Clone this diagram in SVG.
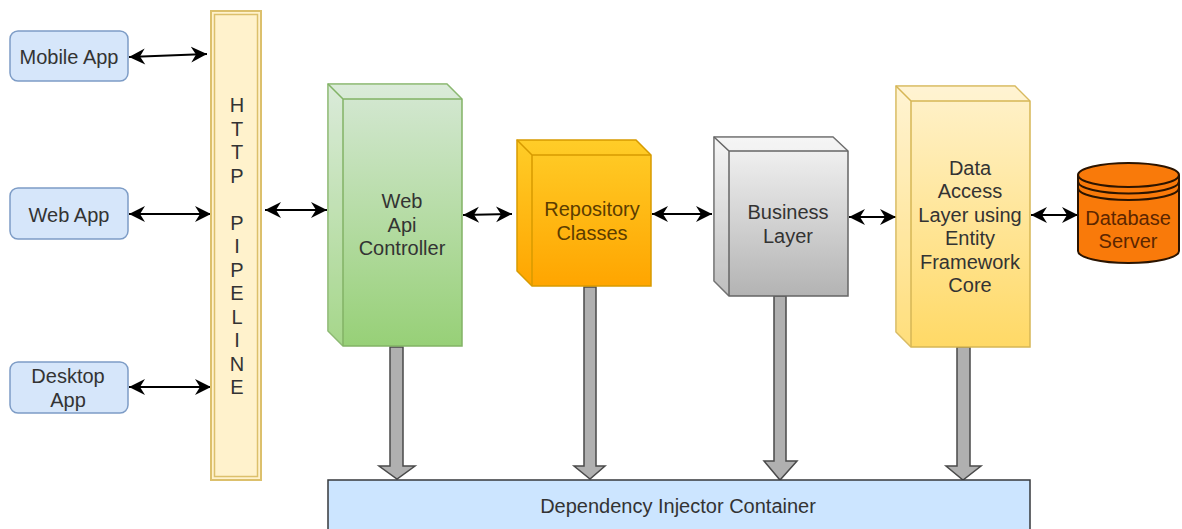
<svg xmlns="http://www.w3.org/2000/svg" width="1182" height="529" viewBox="0 0 1182 529">
<style>
text{font-family:"Liberation Sans",Arial,sans-serif;font-size:20px;fill:#333;text-anchor:middle}
.app{fill:#d6e6fa;stroke:#7d9cc6;stroke-width:1.5}
.ov{fill:#fff;fill-opacity:.14;stroke:none}
.link{fill:none;stroke:#000;stroke-width:2;marker-start:url(#b);marker-end:url(#a)}
.dep{fill:#b0b0b0;stroke:#4a4a4a;stroke-width:1.5}
</style>
<defs>
<marker id="a" markerUnits="userSpaceOnUse" markerWidth="18" markerHeight="18" refX="16" refY="9" orient="auto"><path d="M0 1 L16 9 L0 17 L5 9Z" fill="#000"/></marker>
<marker id="b" markerUnits="userSpaceOnUse" markerWidth="18" markerHeight="18" refX="1" refY="9" orient="auto"><path d="M17 1 L1 9 L17 17 L12 9Z" fill="#000"/></marker>
<linearGradient id="g" x1="0" y1="0" x2="0" y2="1"><stop offset="0" stop-color="#d5e8d4"/><stop offset="1" stop-color="#97d077"/></linearGradient>
<linearGradient id="o" x1="0" y1="0" x2="0" y2="1"><stop offset="0" stop-color="#ffcd28"/><stop offset="1" stop-color="#ffa500"/></linearGradient>
<linearGradient id="s" x1="0" y1="0" x2="0" y2="1"><stop offset="0" stop-color="#f5f5f5"/><stop offset="1" stop-color="#b3b3b3"/></linearGradient>
<linearGradient id="y" x1="0" y1="0" x2="0" y2="1"><stop offset="0" stop-color="#fff2cc"/><stop offset="1" stop-color="#ffd966"/></linearGradient>
</defs>
<g id="connectors">
<path class="link" d="M129 57L207 54"/>
<path class="link" d="M129 214L211 214"/>
<path class="link" d="M129 387L211 387"/>
<path class="link" d="M265 210L327 210"/>
<path class="link" d="M463 215L512 214"/>
<path class="link" d="M652 214L712 214"/>
<path class="link" d="M849 217L896 217"/>
<path class="link" d="M1031 215L1078 215"/>
<path class="dep" d="M390 347H403V466H415L397 479L379 466H390Z"/>
<path class="dep" d="M584 287H596V466H605L590 479L574 466H584Z"/>
<path class="dep" d="M774 296H786V461H797L780 480L764 461H774Z"/>
<path class="dep" d="M957 347H970V466H981L963 480L946 466H957Z"/>
</g>
<g id="mobile-app"><rect class="app" x="10" y="31" width="118" height="50" rx="8"/><text x="69" y="64">Mobile App</text></g>
<g id="web-app"><rect class="app" x="10" y="188" width="118" height="51" rx="8"/><text x="69" y="222">Web App</text></g>
<g id="desktop-app"><rect class="app" x="10" y="362" width="118" height="51" rx="8"/><text x="68" y="383">Desktop</text><text x="68" y="407">App</text></g>
<g id="http-pipeline"><rect x="211" y="11" width="50" height="469" fill="#fff2cc" stroke="#dcc06c" stroke-width="2"/><rect x="214.500" y="14.500" width="43" height="462" fill="none" stroke="#dcc06c" stroke-width="1.500"/>
<text x="237" y="112">H</text><text x="237" y="135.500">T</text><text x="237" y="159">T</text><text x="237" y="182.500">P</text><text x="237" y="229.500">P</text><text x="237" y="253">I</text><text x="237" y="276.500">P</text><text x="237" y="300">E</text><text x="237" y="323.500">L</text><text x="237" y="347">I</text><text x="237" y="370.500">N</text><text x="237" y="394">E</text></g>
<g id="web-api-controller"><path d="M328 84H447L462 99V346H343L328 331Z" fill="url(#g)" stroke="#82b366" stroke-width="1.500"/><path class="ov" d="M328 84H447L462 99H343V346L328 331Z"/><path d="M328 84L343 99H462M343 99V346" fill="none" stroke="#82b366" stroke-width="1.500"/><text x="402" y="208">Web</text><text x="402" y="231.500">Api</text><text x="402" y="255">Controller</text></g>
<g id="repository-classes"><path d="M517 140H636L651 155V286H532L517 271Z" fill="url(#o)" stroke="#d79b00" stroke-width="1.500"/><path d="M517 140L532 155H651M532 155V286" fill="none" stroke="#d79b00" stroke-width="1.500"/><text x="592" y="216" style="fill:#5c3d00">Repository</text><text x="592" y="239.500" style="fill:#5c3d00">Classes</text></g>
<g id="business-layer"><path d="M714 137H833L848 151V296H729L714 281Z" fill="url(#s)" stroke="#666" stroke-width="1.500"/><path class="ov" d="M714 137H833L848 151H729V296L714 281Z"/><path d="M714 137L729 151H848M729 151V296" fill="none" stroke="#666" stroke-width="1.500"/><text x="788" y="219">Business</text><text x="788" y="243">Layer</text></g>
<g id="data-access-layer"><path d="M896 86H1015L1030 101V347H911L896 332Z" fill="url(#y)" stroke="#d6b656" stroke-width="1.500"/><path class="ov" d="M896 86H1015L1030 101H911V347L896 332Z"/><path d="M896 86L911 101H1030M911 101V347" fill="none" stroke="#d6b656" stroke-width="1.500"/><text x="970" y="175">Data</text><text x="970" y="198">Access</text><text x="970" y="222">Layer using</text><text x="970" y="245">Entity</text><text x="970" y="269">Framework</text><text x="970" y="292">Core</text></g>
<g id="database-server"><path d="M1078 175A50.500 12 0 0 1 1179 175V251A50.500 12 0 0 1 1078 251Z" fill="#f97a0a" stroke="#2b1400" stroke-width="2"/><path d="M1078 175A50.500 12 0 0 0 1179 175M1078 181.500A50.500 12 0 0 0 1179 181.500M1078 188A50.500 12 0 0 0 1179 188" fill="none" stroke="#2b1400" stroke-width="2"/><text x="1128" y="225" style="fill:#5c2600">Database</text><text x="1128" y="248" style="fill:#5c2600">Server</text></g>
<g id="dependency-injector-container"><rect x="328" y="480" width="702" height="52" fill="#cce5ff" stroke="#36393d" stroke-width="1.500"/><text x="678" y="513">Dependency Injector Container</text></g>
</svg>
